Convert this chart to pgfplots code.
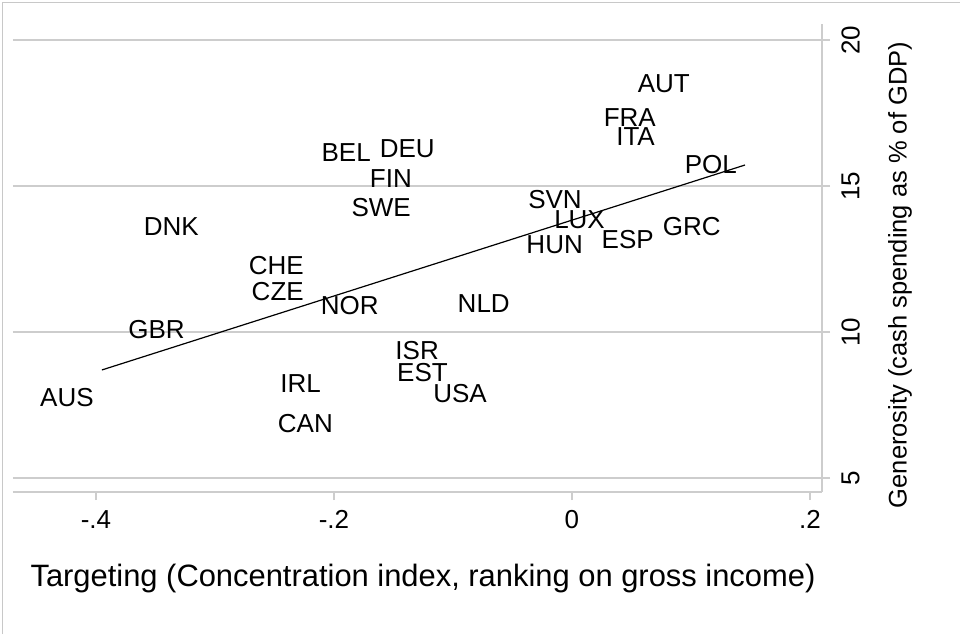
\documentclass[border=0pt]{standalone}
\usepackage{pgfplots}
\pgfplotsset{compat=1.18}
\usepackage{pgfplotstable}
\usepackage{fontspec}
\setmainfont{Liberation Sans}

\definecolor{gridgray}{RGB}{205,205,205}
\definecolor{framegray}{RGB}{200,200,200}

% countries: marker position (label sits to the left, Stata mlabpos 9)
\pgfplotstableread{
x        y      label
0.1059   18.49  AUT
0.0773   17.36  FRA
0.0765   16.68  ITA
0.1454   15.72  POL
-0.1622  16.16  BEL
-0.1084  16.27  DEU
-0.1277  15.27  FIN
-0.1286  14.28  SWE
0.0151   14.55  SVN
0.0345   13.84  LUX
0.0160   12.98  HUN
0.0756   13.15  ESP
0.1319   13.60  GRC
-0.3067  13.60  DNK
-0.2185  12.26  CHE
-0.2185  11.37  CZE
-0.1555  10.89  NOR
-0.0454  10.99  NLD
-0.3185  10.07  GBR
-0.1050  9.35   ISR
-0.0975  8.60   EST
-0.0647  7.88   USA
-0.2042  8.25   IRL
-0.1941  6.88   CAN
-0.3950  7.77   AUS
}\countries

\begin{document}
\begin{tikzpicture}
\useasboundingbox (0,0) rectangle (960pt,634pt);
% outer frame (only top and left edges are visible in the image)
\draw[framegray, line width=1.5pt] (2.5pt,0) -- (2.5pt,631.5pt) -- (960pt,631.5pt);

\begin{axis}[
  at={(13pt,142pt)}, anchor=south west,
  scale only axis,
  width=809pt, height=468pt,
  xmin=-0.4697, xmax=0.2101,
  ymin=4.52, ymax=20.55,
  axis x line*=bottom,
  axis y line*=right,
  axis line style={gridgray, line width=1.5pt},
  xtick={-0.4,-0.2,0,0.2},
  xticklabels={-.4,-.2,0,.2},
  ytick={5,10,15,20},
  yticklabels={5,10,15,20},
  tick align=outside,
  major tick length=8pt,
  tick style={gridgray, line width=1.5pt},
  ymajorgrids,
  grid style={gridgray, line width=1.5pt},
  ticklabel style={font=\fontsize{26}{30}\selectfont},
  xticklabel shift=7pt,
  yticklabel shift=8pt,
  yticklabel style={rotate=90, anchor=north},
  xlabel={Targeting (Concentration index, ranking on gross income)},
  xlabel style={font=\fontsize{30.9}{35}\selectfont,
    at={(axis description cs:0.5068,-0.1838)}, anchor=center},
  ylabel={Generosity (cash spending as \% of GDP)},
  ylabel style={font=\fontsize{25.5}{29}\selectfont,
    at={(axis description cs:1.0964,0.4637)}, anchor=center, rotate=0},
  clip=false,
]
\addplot[draw=none, mark=none,
  nodes near coords,
  point meta=explicit symbolic,
  every node near coord/.style={anchor=east, inner sep=0pt, xshift=-8pt,
    font=\fontsize{26}{30}\selectfont, text=black},
] table[x=x, y=y, meta=label] {\countries};

% linear fit
\addplot[black, line width=1.2pt] coordinates {(-0.3950,8.70) (0.1454,15.72)};
\end{axis}
\end{tikzpicture}
\end{document}
